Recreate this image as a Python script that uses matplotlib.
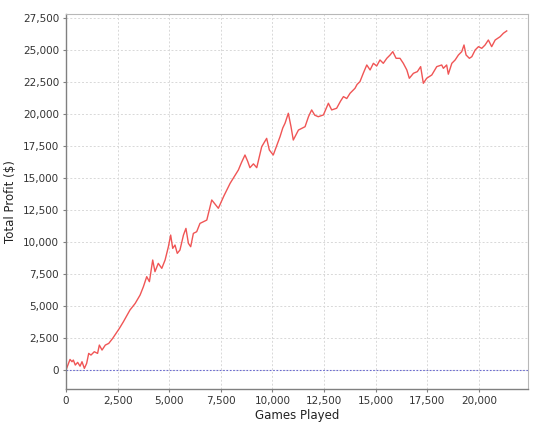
import matplotlib
matplotlib.use("Agg")
import matplotlib.pyplot as plt
from matplotlib.ticker import FuncFormatter, MultipleLocator

# games played vs. cumulative profit
games = [
    0, 194, 290, 355, 450, 565, 680, 775, 890, 1000, 1100, 1210, 1370, 1530,
    1615, 1745, 1905, 2070, 2260, 2420, 2585, 2780, 3100, 3350, 3590, 3750,
    3910, 4040, 4200, 4310, 4470, 4640, 4800, 4960, 5070, 5170, 5280, 5390,
    5520, 5690, 5810, 5930, 6040, 6170, 6330, 6490, 6820, 7060, 7200, 7380,
    7650, 7950, 8150, 8350, 8500, 8670, 8800, 8910, 9080, 9240, 9480, 9720,
    9850, 10040, 10200, 10370, 10500, 10610, 10770, 10900, 11010, 11260,
    11580, 11750, 11900, 12050, 12220, 12470, 12710, 12870, 13110, 13300,
    13440, 13600, 13760, 14000, 14100, 14240, 14400, 14570, 14730, 14890,
    15050, 15210, 15370, 15540, 15700, 15830, 15990, 16180, 16340, 16510,
    16630, 16830, 17020, 17180, 17310, 17470, 17720, 17960, 18200, 18280,
    18440, 18520, 18690, 18850, 19010, 19170, 19280, 19380, 19540, 19660,
    19820, 19980, 20140, 20300, 20460, 20620, 20790, 21030, 21190, 21350,
]
profit = [
    0, 830, 650, 780, 390, 600, 300, 650, 130, 520, 1300, 1170, 1430, 1300,
    1950, 1560, 1950, 2080, 2470, 2860, 3250, 3770, 4690, 5200, 5860, 6510,
    7290, 6900, 8590, 7680, 8330, 7940, 8590, 9630, 10540, 9500, 9760, 9110,
    9370, 10540, 11060, 9890, 9630, 10670, 10800, 11450, 11710, 13280, 13000,
    12630, 13600, 14580, 15100, 15620, 16200, 16790, 16300, 15800, 16100,
    15800, 17440, 18090, 17180, 16790, 17500, 18230, 18900, 19270, 20050,
    19000, 17960, 18740, 19000, 19800, 20310, 19900, 19780, 19920, 20830,
    20310, 20440, 21000, 21350, 21200, 21610, 22000, 22300, 22520, 23170,
    23820, 23430, 23950, 23740, 24210, 23950, 24340, 24600, 24860, 24340,
    24340, 23950, 23430, 22780, 23170, 23300, 23690, 22390, 22780, 23040,
    23690, 23820, 23560, 23820, 23100, 23950, 24210, 24600, 24860, 25380,
    24600, 24340, 24470, 24990, 25250, 25120, 25380, 25770, 25250, 25770,
    26030, 26300, 26480,
]

x_ticks = [0, 2500, 5000, 7500, 10000, 12500, 15000, 17500, 20000]

fig = plt.figure(figsize=(5.4, 4.24), dpi=100)
ax = fig.add_axes([66 / 540, 1 - 389 / 424, 462 / 540, 375 / 424])

ax.plot(games, profit, color="#f05555", linewidth=1.0)
ax.axhline(0, color="#6a6ad0", linewidth=0.8, linestyle=(0, (1.5, 1.5)))

ax.set_xlim(0, 22380)
ax.set_ylim(-1480, 27800)
ax.set_xticks(x_ticks)
ax.yaxis.set_major_locator(MultipleLocator(2500))
fmt = FuncFormatter(lambda v, pos: f"{int(v):,}")
ax.xaxis.set_major_formatter(fmt)
ax.yaxis.set_major_formatter(fmt)

ax.grid(True, color="#d8d8d8", linestyle=(0, (2, 2)), linewidth=0.7)
ax.set_axisbelow(True)

for side in ("top", "right"):
    ax.spines[side].set_color("#b8b8b8")
for side in ("left", "bottom"):
    ax.spines[side].set_color("#808080")
    ax.spines[side].set_linewidth(1.0)

ax.tick_params(axis="both", labelsize=7.5, length=2, width=0.8,
               color="#808080", labelcolor="#333333", pad=3)

ax.set_xlabel("Games Played", fontsize=8.5, color="#222222", labelpad=2)
ax.set_ylabel("Total Profit ($)", fontsize=8.5, color="#222222", labelpad=4)

fig.savefig("out.png", dpi=100, facecolor="white")
